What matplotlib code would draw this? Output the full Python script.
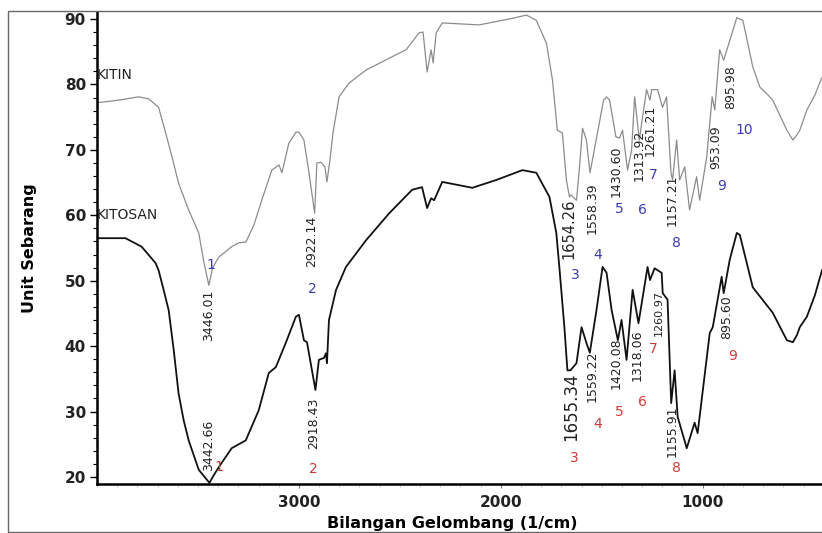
import matplotlib
matplotlib.use("Agg")
import matplotlib.pyplot as plt
from matplotlib.patches import Rectangle
from matplotlib.ticker import MultipleLocator

# KITIN spectrum (gray)
kitin_wn = [4000, 3893, 3794, 3744, 3695, 3660, 3625, 3596, 3546, 3496, 3471, 3446, 3427, 3397,
            3333, 3298, 3263, 3223, 3184, 3134, 3099, 3084, 3050, 3015, 3000, 2975, 2950, 2922,
            2911, 2891, 2871, 2861, 2846, 2831, 2801, 2752, 2667, 2553, 2469, 2404, 2385, 2365,
            2345, 2335, 2320, 2290, 2107, 1943, 1873, 1824, 1774, 1744, 1720, 1695, 1675, 1660,
            1654, 1625, 1610, 1595, 1576, 1558, 1521, 1491, 1476, 1461, 1430, 1412, 1397, 1372,
            1352, 1337, 1314, 1278, 1261, 1253, 1223, 1199, 1179, 1157, 1149, 1129, 1114, 1089,
            1065, 1030, 1015, 980, 953, 940, 916, 896, 876, 831, 801, 752, 717, 677, 653, 618,
            583, 553, 533, 519, 484, 444, 409]
kitin_t = [77.2, 77.6, 78.1, 77.8, 76.5, 72.6, 68.5, 64.9, 60.8, 57.3, 52.9, 49.3, 52.0, 53.6,
           55.2, 55.8, 55.9, 58.5, 62.3, 66.9, 67.7, 66.5, 71.0, 72.7, 72.7, 71.5, 66.5, 60.3,
           68.0, 68.1, 67.4, 65.1, 68.5, 72.6, 78.1, 80.2, 82.2, 84.0, 85.3, 87.9, 88.0, 81.9,
           85.3, 83.3, 87.9, 89.4, 89.1, 90.1, 90.6, 89.8, 86.3, 80.7, 73.0, 72.6, 65.4, 62.8,
           63.1, 62.3, 67.4, 73.3, 71.5, 66.5, 72.6, 77.6, 78.1, 77.6, 72.0, 71.8, 73.0, 66.9,
           70.0, 78.1, 71.5, 79.2, 77.6, 79.2, 79.2, 76.5, 78.1, 66.5, 65.4, 71.5, 65.4, 67.4,
           60.8, 65.9, 62.3, 68.9, 78.1, 76.1, 85.3, 83.7, 85.7, 90.2, 89.8, 82.7, 79.6, 78.4,
           77.6, 75.3, 73.0, 71.5, 72.3, 73.0, 76.1, 78.4, 81.1]

# KITOSAN spectrum (black)
kitosan_wn = [4000, 3859, 3779, 3710, 3695, 3670, 3645, 3620, 3596, 3571, 3546, 3496, 3443, 3427,
              3397, 3333, 3263, 3199, 3149, 3114, 3065, 3015, 3000, 2975, 2960, 2918, 2901, 2876,
              2866, 2861, 2851, 2816, 2767, 2667, 2553, 2439, 2390, 2365, 2345, 2330, 2290, 2141,
              2022, 1893, 1824, 1759, 1725, 1710, 1685, 1670, 1655, 1625, 1600, 1576, 1559, 1526,
              1496, 1476, 1451, 1420, 1402, 1377, 1347, 1318, 1273, 1261, 1238, 1203, 1198, 1174,
              1156, 1139, 1124, 1079, 1040, 1025, 965, 950, 906, 896, 866, 831, 816, 752, 653,
              583, 553, 533, 519, 484, 444, 409]
kitosan_t = [56.5, 56.5, 55.2, 52.7, 51.6, 48.6, 45.5, 39.4, 32.8, 28.7, 25.6, 21.1, 19.1, 20.0,
             21.5, 24.4, 25.6, 30.2, 35.9, 36.8, 40.5, 44.5, 44.8, 40.9, 40.6, 33.3, 37.9, 38.2,
             38.9, 37.4, 44.0, 48.6, 52.1, 56.2, 60.3, 63.9, 64.3, 61.1, 62.6, 62.3, 65.1, 64.2,
             65.4, 66.9, 66.5, 62.8, 57.3, 52.1, 42.9, 36.3, 36.3, 37.4, 42.9, 40.5, 39.0, 45.5,
             52.1, 51.2, 45.5, 40.9, 44.0, 37.9, 48.6, 43.5, 52.1, 50.1, 51.9, 51.2, 48.1, 47.1,
             31.3, 36.3, 29.2, 24.4, 28.3, 26.7, 42.0, 42.9, 50.6, 48.1, 53.2, 57.3, 57.0, 49.0,
             45.1, 40.9, 40.6, 41.7, 42.9, 44.5, 47.8, 51.6]

# peak labels
kitin_peaks = ["3446.01", "2922.14", "1654.26", "1558.39", "1430.60", "1313.92",
               "1261.21", "1157.21", "953.09", "895.98"]
kitosan_peaks = ["3442.66", "2918.43", "1655.34", "1559.22", "1420.08", "1318.06",
                 "1260.97", "1155.91", "895.60"]

# where the label texts sit (x, top of text) and the index numbers
kitin_lab_pos = [(3447, 48.6), (2935, 60.0), (1662, 62.6), (1546, 65.1), (1427, 70.7),
                 (1313, 73.0), (1258, 76.9), (1149, 66.2), (935, 73.8), (861, 83.0)]
kitin_idx_pos = [(3437, 52.4), (2935, 48.7), (1630, 50.9), (1521, 53.9), (1412, 61.0),
                 (1298, 60.8), (1243, 66.2), (1129, 55.8), (906, 64.5), (796, 73.0)]
kitosan_lab_pos = [(3447, 28.7), (2926, 32.1), (1652, 35.9), (1546, 39.4), (1427, 41.4),
                   (1322, 42.5), (1218, 48.6), (1149, 31.0), (881, 47.8)]
kitosan_idx_pos = [(3397, 21.5), (2926, 21.2), (1635, 22.9), (1521, 28.1), (1412, 29.9),
                   (1298, 31.5), (1243, 39.6), (1129, 21.4), (851, 38.5)]

fig = plt.figure(figsize=(8.22, 5.33), dpi=100)
W, H = 822, 533
ax = fig.add_axes([97 / W, (H - 484) / H, 1 - 97 / W, (484 - 12) / H])

ax.plot(kitin_wn, kitin_t, color="#8c8c8c", lw=0.9)
ax.plot(kitosan_wn, kitosan_t, color="#111111", lw=1.3)

ax.set_xlim(4000, 409)
ax.set_ylim(18.93, 91.07)

for s in ["top", "right"]:
    ax.spines[s].set_visible(False)
for s in ["left", "bottom"]:
    ax.spines[s].set_linewidth(1.8)

ax.set_yticks([20, 30, 40, 50, 60, 70, 80, 90])
ax.yaxis.set_minor_locator(MultipleLocator(2))
ax.set_xticks([3000, 2000, 1000])
ax.xaxis.set_minor_locator(MultipleLocator(100))
ax.tick_params(axis="y", which="major", direction="out", length=5, width=1, labelsize=11, pad=3)
ax.tick_params(axis="y", which="minor", direction="out", length=3, width=0.8)
ax.tick_params(axis="x", which="major", direction="out", length=3, width=0.8, labelsize=11, pad=5,
               color="#777777")
ax.tick_params(axis="x", which="minor", direction="out", length=2, width=0.5, color="#bbbbbb")
for lab in ax.get_xticklabels() + ax.get_yticklabels():
    lab.set_fontweight("bold")
    lab.set_color("#222222")

ax.set_xlabel("Bilangan Gelombang (1/cm)", fontsize=11.5, fontweight="bold")
ax.set_ylabel("Unit Sebarang", fontsize=11.5, fontweight="bold")
ax.xaxis.set_label_coords(0.49, -0.067)
ax.yaxis.set_label_coords(-0.083, 0.5)

ax.text(4000, 81.4, "KITIN", fontsize=10, va="center", ha="left", color="#222222")
ax.text(4000, 60.0, "KITOSAN", fontsize=10, va="center", ha="left", color="#222222")

blue = "#3b3bb0"
red = "#d03a3a"
for i, lab in enumerate(kitin_peaks):
    x, y = kitin_lab_pos[i]
    fs = 10.5 if lab == "1654.26" else 9
    ax.text(x, y, lab, rotation=90, ha="center", va="top", fontsize=fs, color="#222222")
    x, y = kitin_idx_pos[i]
    ax.text(x, y, str(i + 1), ha="center", va="center", fontsize=10, color=blue)
for i, lab in enumerate(kitosan_peaks):
    x, y = kitosan_lab_pos[i]
    fs = 12 if lab == "1655.34" else (8 if lab == "1260.97" else 9)
    ax.text(x, y, lab, rotation=90, ha="center", va="top", fontsize=fs, color="#222222")
    x, y = kitosan_idx_pos[i]
    ax.text(x, y, str(i + 1), ha="center", va="center", fontsize=10, color=red)

# outer frame of the scanned page
fig.patches.append(Rectangle((8 / W, 1 / H), 1.2, (H - 12) / H, transform=fig.transFigure,
                             fill=False, edgecolor="#666666", lw=1.0))

fig.savefig("out.png", dpi=100)
